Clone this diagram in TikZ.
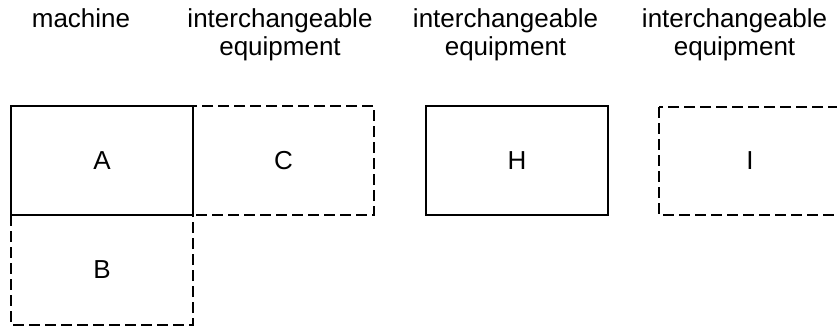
\documentclass[tikz,border=0pt]{standalone}
\usepackage{fontspec}
\setmainfont{Liberation Sans}
\begin{document}
\begin{tikzpicture}[x=1pt,y=-1pt,
  solidbox/.style={draw=black,line width=2.3pt},
  dashbox/.style={draw=black,line width=1.6pt,dash pattern=on 11pt off 5pt},
  boxlabel/.style={inner sep=0pt,font=\fontsize{26}{28}\selectfont},
  heading/.style={anchor=north,inner sep=0pt,align=center,font=\fontsize{26}{28}\selectfont}]
\useasboundingbox (0,0) rectangle (837,326);
\clip (0,0) rectangle (837,326);
% dashed boxes
\draw[dashbox] (11,215) rectangle (193,325);
\draw[dashbox] (193,106) rectangle (374,215);
\draw[dashbox] (659,107) rectangle (841,215);
% solid boxes
\draw[solidbox] (11,106) rectangle (193,215);
\draw[solidbox] (426,106) rectangle (608,215);
% labels
\node[boxlabel] (A) at (102,160.5) {A};
\node[boxlabel] (B) at (102,270) {B};
\node[boxlabel] (C) at (283.5,160.5) {C};
\node[boxlabel] (H) at (517,160.5) {H};
\node[boxlabel] (I) at (750,161) {I};
% headings
\node[heading] (h1) at (81,8.4) {machine};
\node[heading] (h2) at (280,8.4) {interchangeable\\equipment};
\node[heading] (h3) at (505.5,8.4) {interchangeable\\equipment};
\node[heading] (h4) at (734.5,8.4) {interchangeable\\equipment};
\end{tikzpicture}
\end{document}
